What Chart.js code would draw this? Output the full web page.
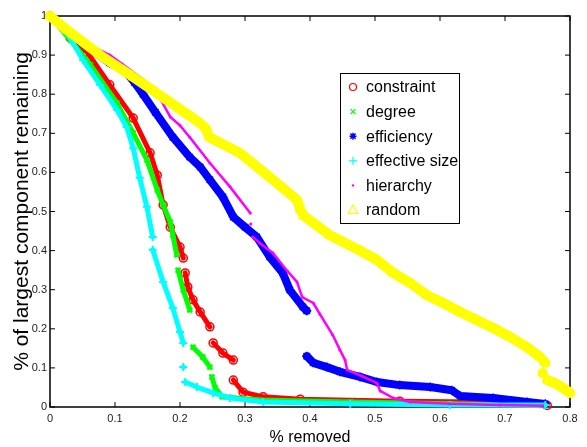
<!DOCTYPE html>
<html>
<head>
<meta charset="utf-8">
<script src="https://cdn.jsdelivr.net/npm/chart.js@4.4.1/dist/chart.umd.min.js"></script>
<style>
  html, body { margin: 0; padding: 0; background: #fff; }
  #wrap { width: 587px; height: 447px; }
</style>
</head>
<body>
<div id="wrap"><canvas id="c" width="587" height="447"></canvas></div>
<script>
// ---- tick labels ----
const xTickLabels = ['0', '0.1', '0.2', '0.3', '0.4', '0.5', '0.6', '0.7', '0.8'];
const yTickLabels = ['0', '0.1', '0.2', '0.3', '0.4', '0.5', '0.6', '0.7', '0.8', '0.9', '1'];
const seriesNames = ['constraint', 'degree', 'efficiency', 'effective size', 'hierarchy', 'random'];

// ---- series values: [fraction removed, fraction of largest component]; null = gap ----
const constraint = [
  [0, 1], [0.031, 0.944], [0.057, 0.908], [0.092, 0.824], [0.128, 0.739], [0.154, 0.65],
  [0.165, 0.593], [0.174, 0.517], [0.185, 0.46], [0.2, 0.409], [0.205, 0.381], null,
  [0.208, 0.343], [0.212, 0.307], [0.22, 0.274], [0.231, 0.243], [0.246, 0.205], null,
  [0.251, 0.164], [0.266, 0.138], [0.282, 0.12], null,
  [0.282, 0.069], [0.297, 0.038], [0.328, 0.026], [0.385, 0.02], [0.538, 0.015], [0.692, 0.012], [0.765, 0.004]
];
const degree = [
  [0, 1], [0.031, 0.939], [0.062, 0.875], [0.103, 0.777], [0.128, 0.701], [0.149, 0.632],
  [0.165, 0.555], [0.174, 0.517], [0.185, 0.473], [0.189, 0.44], [0.195, 0.389], null,
  [0.197, 0.35], [0.205, 0.299], [0.215, 0.248], null,
  [0.22, 0.153], [0.235, 0.128], [0.246, 0.102], null,
  [0.249, 0.077], [0.254, 0.049], [0.265, 0.026], [0.323, 0.018], [0.462, 0.013], [0.615, 0.008], [0.762, 0.003]
];
const efficiency = [
  [0, 1], [0.046, 0.935], [0.092, 0.88], [0.115, 0.86], [0.13, 0.83], [0.143, 0.8],
  [0.162, 0.754], [0.189, 0.69], [0.215, 0.639], [0.231, 0.614], [0.246, 0.581], [0.266, 0.537],
  [0.282, 0.486], [0.3, 0.46], [0.318, 0.435], [0.338, 0.384], [0.358, 0.343], [0.369, 0.299],
  [0.389, 0.256], [0.395, 0.246], null,
  [0.395, 0.13], [0.405, 0.113], [0.426, 0.102], [0.446, 0.09], [0.477, 0.077], [0.503, 0.064],
  [0.538, 0.056], [0.585, 0.051], [0.618, 0.043], [0.631, 0.028], [0.682, 0.023], [0.734, 0.013], [0.762, 0.008]
];
const effectiveSize = [
  [0, 1], [0.026, 0.957], [0.051, 0.887], [0.077, 0.824], [0.103, 0.76], [0.118, 0.716],
  [0.128, 0.662], [0.138, 0.586], [0.149, 0.512], [0.158, 0.435], null,
  [0.158, 0.402], [0.174, 0.32], [0.189, 0.253], [0.2, 0.192], [0.205, 0.164], null,
  [0.205, 0.102], null,
  [0.208, 0.064], [0.226, 0.051], [0.251, 0.036], [0.277, 0.023], [0.328, 0.013], [0.462, 0.008],
  [0.615, 0.005], [0.762, 0.005]
];
const hierarchy = [
  [0, 1], [0.05, 0.935], [0.092, 0.9], [0.111, 0.877], [0.143, 0.838], [0.169, 0.79],
  [0.185, 0.742], [0.2, 0.72], [0.215, 0.69], [0.246, 0.624], [0.277, 0.563], [0.308, 0.496], null,
  [0.309, 0.468], null,
  [0.312, 0.435], [0.323, 0.419], [0.343, 0.394], [0.365, 0.348], [0.38, 0.32], [0.388, 0.281],
  [0.405, 0.266], [0.415, 0.238], [0.435, 0.184], [0.446, 0.146], [0.454, 0.12], [0.457, 0.095],
  [0.48, 0.079], [0.503, 0.061], [0.508, 0.041], [0.528, 0.023], [0.554, 0.013], [0.615, 0.008],
  [0.692, 0.005], [0.758, 0.003]
];
const random = [
  [0, 1], [0.026, 0.964], [0.077, 0.9], [0.128, 0.844], [0.18, 0.785], [0.231, 0.726],
  [0.24, 0.712], [0.245, 0.69], [0.292, 0.65], [0.338, 0.588], [0.38, 0.53], [0.385, 0.505],
  [0.39, 0.49], [0.43, 0.44], [0.477, 0.4], [0.503, 0.376], [0.528, 0.343], [0.554, 0.317],
  [0.58, 0.286], [0.605, 0.266], [0.631, 0.243], [0.657, 0.222], [0.682, 0.202], [0.708, 0.179],
  [0.734, 0.153], [0.754, 0.128], [0.762, 0.113], null,
  [0.758, 0.087], null,
  [0.765, 0.069], [0.777, 0.061], [0.789, 0.049], [0.8, 0.036]
];

// ---- helpers ----
function toPoints(arr) {
  const out = [];
  let lastX = 0;
  arr.forEach(p => {
    if (p === null) { out.push({ x: lastX, y: null }); }
    else { lastX = p[0]; out.push({ x: p[0], y: p[1] }); }
  });
  return out;
}

const styles = [
  { color: '#ff0000', pointStyle: 'circle', radius: 4, lineW: 5, pbw: 1.5, fill: 'rgba(0,0,0,0)', order: 6 },
  { color: '#00ff00', pointStyle: 'crossRot', radius: 3.5, lineW: 5, pbw: 2, fill: '#00ff00', order: 5 },
  { color: '#0000ff', pointStyle: 'star', radius: 4.5, lineW: 8, pbw: 1.5, fill: '#0000ff', order: 4 },
  { color: '#00ffff', pointStyle: 'cross', radius: 4, lineW: 5, pbw: 2, fill: '#00ffff', order: 3 },
  { color: '#ff00ff', pointStyle: 'circle', radius: 1.5, lineW: 2.5, pbw: 0, fill: '#ff00ff', order: 2 },
  { color: '#ffff00', pointStyle: 'triangle', radius: 5, lineW: 10, pbw: 1.5, fill: 'rgba(0,0,0,0)', order: 1 }
];
const seriesData = [constraint, degree, efficiency, effectiveSize, hierarchy, random];

const datasets = seriesData.map((s, i) => {
  const st = styles[i];
  return {
    label: seriesNames[i],
    data: toPoints(s),
    showLine: true,
    spanGaps: false,
    borderColor: st.color,
    backgroundColor: st.color,
    borderWidth: st.lineW,
    borderCapStyle: 'round',
    borderJoinStyle: 'round',
    pointStyle: st.pointStyle,
    pointRadius: st.radius,
    pointHoverRadius: st.radius,
    pointBorderWidth: st.pbw,
    pointBorderColor: st.color,
    pointBackgroundColor: st.fill,
    order: st.order,
    clip: false
  };
});

// ---- axis frame with inward ticks (MATLAB style) ----
const framePlugin = {
  id: 'frame',
  beforeDatasetsDraw(chart) {
    const { ctx, chartArea: { left, right, top, bottom }, scales: { x, y } } = chart;
    ctx.save();
    ctx.strokeStyle = '#000';
    ctx.lineWidth = 1.5;
    ctx.strokeRect(left, top, right - left, bottom - top);
    ctx.beginPath();
    const tl = 5;
    x.ticks.forEach(t => {
      const px = x.getPixelForValue(t.value);
      ctx.moveTo(px, bottom); ctx.lineTo(px, bottom - tl);
      ctx.moveTo(px, top); ctx.lineTo(px, top + tl);
    });
    y.ticks.forEach(t => {
      const py = y.getPixelForValue(t.value);
      ctx.moveTo(left, py); ctx.lineTo(left + tl, py);
      ctx.moveTo(right, py); ctx.lineTo(right - tl, py);
    });
    ctx.lineWidth = 1;
    ctx.stroke();
    ctx.restore();
  }
};

function drawMarker(ctx, style, x, y, r, color) {
  ctx.save();
  ctx.strokeStyle = color;
  ctx.fillStyle = color;
  ctx.lineWidth = 1.2;
  ctx.beginPath();
  if (style === 'circle') {
    ctx.arc(x, y, r, 0, Math.PI * 2);
    ctx.stroke();
  } else if (style === 'dot') {
    ctx.arc(x, y, r, 0, Math.PI * 2);
    ctx.fill();
  } else if (style === 'crossRot') {
    ctx.moveTo(x - r, y - r); ctx.lineTo(x + r, y + r);
    ctx.moveTo(x - r, y + r); ctx.lineTo(x + r, y - r);
    ctx.stroke();
  } else if (style === 'cross') {
    ctx.moveTo(x - r, y); ctx.lineTo(x + r, y);
    ctx.moveTo(x, y - r); ctx.lineTo(x, y + r);
    ctx.stroke();
  } else if (style === 'star') {
    ctx.moveTo(x - r, y); ctx.lineTo(x + r, y);
    ctx.moveTo(x, y - r); ctx.lineTo(x, y + r);
    const d = r * 0.75;
    ctx.moveTo(x - d, y - d); ctx.lineTo(x + d, y + d);
    ctx.moveTo(x - d, y + d); ctx.lineTo(x + d, y - d);
    ctx.lineWidth = 1.5;
    ctx.stroke();
  } else if (style === 'triangle') {
    ctx.moveTo(x, y - r);
    ctx.lineTo(x + r * 0.95, y + r * 0.7);
    ctx.lineTo(x - r * 0.95, y + r * 0.7);
    ctx.closePath();
    ctx.stroke();
  }
  ctx.restore();
}

const legendMarkers = [
  { style: 'circle', r: 3.5 },
  { style: 'crossRot', r: 2.5 },
  { style: 'star', r: 3.5 },
  { style: 'cross', r: 4 },
  { style: 'dot', r: 1.2 },
  { style: 'triangle', r: 5 }
];

const legendPlugin = {
  id: 'boxLegend',
  afterDatasetsDraw(chart) {
    const { ctx } = chart;
    const bx = 340, by = 73, bw = 119, bh = 150;
    ctx.save();
    ctx.fillStyle = '#fff';
    ctx.fillRect(bx, by, bw, bh);
    ctx.strokeStyle = '#000';
    ctx.lineWidth = 1;
    ctx.strokeRect(bx + 0.5, by + 0.5, bw, bh);
    ctx.font = "16px 'Liberation Sans', Arial, sans-serif";
    ctx.textBaseline = 'middle';
    ctx.textAlign = 'left';
    chart.data.datasets.forEach((ds, i) => {
      const cy = by + 14 + i * 24.6;
      drawMarker(ctx, legendMarkers[i].style, bx + 13, cy, legendMarkers[i].r, ds.borderColor);
      ctx.fillStyle = '#000';
      ctx.fillText(ds.label, bx + 26, cy + 1);
    });
    ctx.restore();
  }
};

Chart.defaults.font.family = "'Liberation Sans', Arial, sans-serif";

new Chart(document.getElementById('c'), {
  type: 'scatter',
  data: { datasets },
  plugins: [framePlugin, legendPlugin],
  options: {
    responsive: false,
    animation: false,
    events: [],
    layout: { padding: { top: 16, right: 17, left: 0, bottom: 0 } },
    plugins: { legend: { display: false }, tooltip: { enabled: false } },
    scales: {
      x: {
        type: 'linear', min: 0, max: 0.8,
        grid: { display: false, drawTicks: false },
        border: { display: false },
        ticks: {
          stepSize: 0.1, autoSkip: false, maxRotation: 0, padding: 5,
          color: '#222', font: { size: 11 },
          callback: (v, i) => xTickLabels[i]
        },
        title: { display: true, text: '% removed', color: '#000', font: { size: 16 }, padding: { top: 0, bottom: 0 } },
        afterFit: s => { s.height = 40; }
      },
      y: {
        type: 'linear', min: 0, max: 1,
        grid: { display: false, drawTicks: false },
        border: { display: false },
        ticks: {
          stepSize: 0.1, autoSkip: false, padding: 3,
          color: '#222', font: { size: 11 },
          callback: (v, i) => yTickLabels[i]
        },
        title: { display: true, text: '% of largest component remaining', color: '#000', font: { size: 21 }, padding: { top: 10, bottom: 0 } },
        afterFit: s => { s.width = 50; }
      }
    }
  }
});
</script>
</body>
</html>
